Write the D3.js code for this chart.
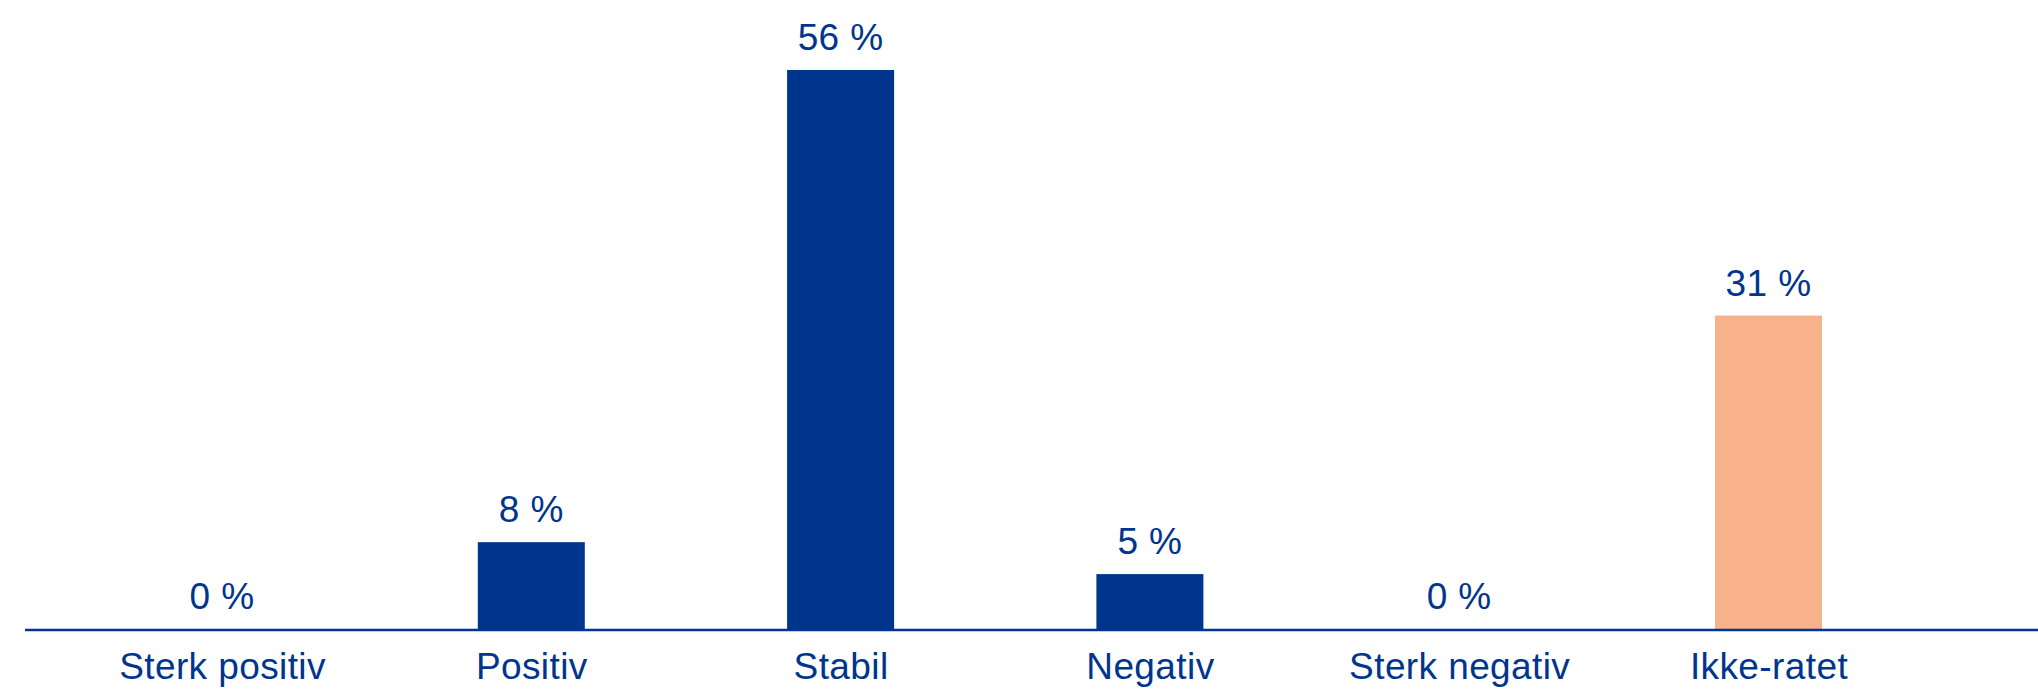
<!DOCTYPE html>
<html>
<head>
<meta charset="utf-8">
<script src="https://cdn.jsdelivr.net/npm/d3@7"></script>
<style>
  html, body { margin: 0; padding: 0; background: #fff; }
  svg text { font-family: "Liberation Sans", Arial, Helvetica, sans-serif; letter-spacing: 0.4px; }
</style>
</head>
<body>
<svg id="chart" width="2038" height="689"></svg>
<script>
// Chart data
const categories = ["Sterk positiv", "Positiv", "Stabil", "Negativ", "Sterk negativ", "Ikke-ratet"];
const values     = [0, 8.7, 56.0, 5.5, 0, 31.4];   // bar heights
const shown      = [0, 8, 56, 5, 0, 31];           // printed labels
const highlight  = [false, false, false, false, false, true];

// Colours
const blue  = "#00358E";
const peach = "#F7B28B";

const svg = d3.select("#chart");
const base = 630;

let x = d3.scalePoint()
  .domain(categories)
  .range([222, 1768.5]);

let y = d3.scaleLinear()
  .domain([0, 56])
  .range([base - 1, 70]);

const barW = 107;

// Bars
svg.append("g").selectAll("rect")
  .data(categories).enter()
  .append("rect")
  .attr("x", (d) => { return x(d) - barW / 2; })
  .attr("y", (d, i) => { return y(values[i]); })
  .attr("width", barW)
  .attr("height", (d, i) => { return y(0) - y(values[i]); })
  .attr("fill", (d, i) => { return highlight[i] ? peach : blue; });

// Value labels
svg.append("g").selectAll("text")
  .data(categories).enter()
  .append("text")
  .attr("x", (d) => { return x(d); })
  .attr("y", (d, i) => { return y(values[i]) - 20; })
  .attr("text-anchor", "middle")
  .attr("font-size", "37px")
  .attr("fill", blue)
  .text((d, i) => { return shown[i] + " %"; });

// Baseline
svg.append("line")
  .attr("x1", 25).attr("x2", 2038)
  .attr("y1", base).attr("y2", base)
  .attr("stroke", blue)
  .attr("stroke-width", 2.5);

// Category axis
let axis = svg.append("g")
  .attr("transform", `translate(0,${base})`)
  .call(d3.axisBottom(x).tickSize(0));

axis.select(".domain").remove();
axis.selectAll("text")
  .attr("dy", null)
  .attr("y", 49)
  .attr("font-size", "37px")
  .attr("font-family", "Liberation Sans, Arial, Helvetica, sans-serif")
  .attr("fill", blue);
</script>
</body>
</html>
